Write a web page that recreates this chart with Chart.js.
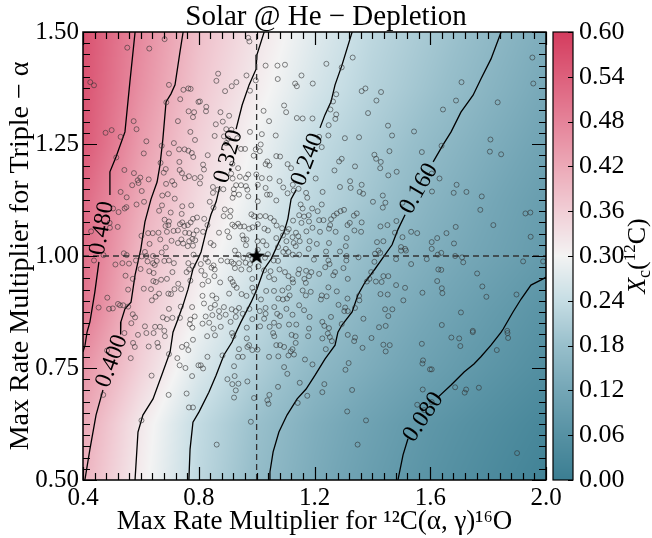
<!DOCTYPE html>
<html><head><meta charset="utf-8">
<script src="https://cdn.jsdelivr.net/npm/chart.js@4.4.1/dist/chart.umd.min.js"></script>
<style>html,body{margin:0;padding:0;background:#fff}#wrap{width:652px;height:538px}</style>
</head><body><div id="wrap"><canvas id="c" width="652" height="538"></canvas></div>
<script>
// ---------------- DATA ----------------
const xTicks = [0.4, 0.8, 1.2, 1.6, 2.0];
const yTicks = [0.5, 0.75, 1.0, 1.25, 1.5];
const cbTicks = [0, 0.06, 0.12, 0.18, 0.24, 0.30, 0.36, 0.42, 0.48, 0.54, 0.60];
const contourLevels = ['0.480', '0.400', '0.320', '0.240', '0.160', '0.080'];

// field X_c(12C) on a coarse grid
const gridX = [0.4, 0.6, 0.8, 1.0, 1.2, 1.4, 1.6, 1.8, 2.0];
const gridY = [0.5, 0.625, 0.75, 0.875, 1.0, 1.125, 1.25, 1.375, 1.5];
const gridValues = [
  [0.403,0.311,0.230,0.173,0.132,0.096,0.066,0.040,0.014],
  [0.420,0.319,0.236,0.182,0.140,0.107,0.076,0.052,0.028],
  [0.455,0.355,0.269,0.210,0.164,0.133,0.103,0.075,0.051],
  [0.500,0.377,0.299,0.232,0.188,0.150,0.121,0.092,0.066],
  [0.517,0.395,0.320,0.260,0.211,0.169,0.139,0.113,0.087],
  [0.524,0.418,0.341,0.279,0.227,0.190,0.154,0.124,0.095],
  [0.554,0.441,0.357,0.294,0.238,0.203,0.169,0.139,0.111],
  [0.562,0.459,0.374,0.313,0.260,0.219,0.187,0.155,0.125],
  [0.565,0.470,0.385,0.327,0.274,0.229,0.198,0.167,0.136]
];

// contour lines (broken where the inline labels sit)
const contour480a = [[0.580,1.5],[0.562,1.388],[0.545,1.277],[0.514,1.221],[0.493,1.188],[0.493,1.136]];
const contour480b = [[0.455,0.987],[0.441,0.920],[0.424,0.853],[0.414,0.830],[0.407,0.801],[0.4,0.786]];
const contour400a = [[0.746,1.5],[0.735,1.455],[0.718,1.382],[0.704,1.362],[0.687,1.344],[0.676,1.261],[0.666,1.203],[0.656,1.165],[0.635,1.127],[0.614,1.076],[0.600,1.016],[0.580,0.958],[0.566,0.897],[0.545,0.882],[0.531,0.853],[0.530,0.825]];
const contour400b = [[0.469,0.701],[0.445,0.645],[0.424,0.569],[0.407,0.502],[0.406,0.5]];
const contour320a = [[1.026,1.5],[1.001,1.449],[0.998,1.417],[0.974,1.382],[0.950,1.337],[0.929,1.283]];
const contour320b = [[0.873,1.156],[0.860,1.121],[0.842,1.092],[0.825,1.054],[0.808,1.009],[0.797,0.993],[0.780,0.971],[0.763,0.926],[0.746,0.891],[0.728,0.859],[0.711,0.830],[0.701,0.786],[0.676,0.741],[0.642,0.681],[0.607,0.645],[0.590,0.607],[0.580,0.502],[0.580,0.5]];
const contour240a = [[1.330,1.5],[1.295,1.426],[1.271,1.382],[1.257,1.344],[1.236,1.315],[1.219,1.286]];
const contour240b = [[1.136,1.147],[1.119,1.127],[1.108,1.083],[1.095,1.054],[1.077,1.031],[1.050,0.993],[1.026,0.971],[1.001,0.926],[0.981,0.897],[0.946,0.853],[0.929,0.830],[0.915,0.808],[0.887,0.779],[0.860,0.734],[0.835,0.696],[0.801,0.652],[0.780,0.629],[0.770,0.569],[0.766,0.502],[0.766,0.5]];
const contour160a = [[1.845,1.5],[1.810,1.440],[1.775,1.395],[1.748,1.359],[1.706,1.321],[1.672,1.277],[1.644,1.248],[1.610,1.210]];
const contour160b = [[1.513,1.092],[1.489,1.060],[1.468,1.025],[1.433,0.993],[1.409,0.971],[1.375,0.942],[1.350,0.913],[1.330,0.875],[1.295,0.846],[1.281,0.830],[1.271,0.801],[1.236,0.770],[1.202,0.734],[1.171,0.703],[1.140,0.681],[1.105,0.645],[1.077,0.607],[1.057,0.563],[1.046,0.518],[1.046,0.5]];
const contour080a = [[2.0,0.953],[1.990,0.949],[1.948,0.935],[1.914,0.904],[1.886,0.875],[1.852,0.837],[1.845,0.830],[1.810,0.801],[1.775,0.775],[1.751,0.759],[1.717,0.741],[1.672,0.712],[1.627,0.685]];
const contour080b = [[1.523,0.592],[1.506,0.556],[1.489,0.502],[1.488,0.5]];

// Monte-Carlo samples (rate multipliers)
const samples = [
[0.553,1.465],[0.629,1.463],[0.682,1.484],[0.425,1.388],[0.438,1.381],[0.697,1.382],[0.747,1.371],[0.764,1.374],[0.772,1.373],[0.736,1.350],[0.688,1.343],[0.799,1.344],[0.765,1.323],[0.784,1.321],[0.780,1.310],[0.728,1.301],[0.575,1.301],[0.585,1.283],[0.478,1.275],[0.499,1.281],[0.771,1.277],[0.530,1.266],[0.619,1.256],[0.714,1.252],[0.787,1.259],[0.672,1.246],[0.732,1.238],[0.751,1.238],[0.764,1.235],[0.776,1.230],[0.781,1.221],[0.697,1.229],[0.610,1.229],[0.515,1.220],[0.733,1.210],[0.668,1.208],[0.543,1.192],[0.576,1.185],[0.598,1.175],[0.589,1.169],[0.627,1.171],[0.686,1.194],[0.679,1.186],[0.734,1.192],[0.742,1.185],[0.766,1.178],[0.786,1.174],[0.752,1.174],[0.708,1.167],
[0.971,1.487],[0.975,1.479],[1.031,1.425],[1.072,1.425],[1.098,1.427],[0.867,1.407],[0.861,1.391],[0.965,1.403],[0.997,1.392],[1.073,1.395],[1.155,1.403],[0.930,1.388],[0.914,1.379],[1.133,1.385],[1.139,1.379],[1.194,1.385],[0.977,1.369],[0.891,1.368],[0.804,1.345],[0.826,1.333],[0.825,1.323],[0.875,1.321],[1.095,1.336],[1.102,1.321],[1.024,1.324],[0.905,1.313],[0.883,1.300],[0.859,1.294],[1.043,1.301],[1.139,1.308],[1.159,1.307],[1.193,1.307],[0.895,1.283],[0.913,1.282],[0.977,1.277],[1.018,1.272],[1.066,1.269],[0.855,1.268],[0.887,1.267],[0.902,1.262],[0.933,1.263],[0.895,1.252],[1.014,1.249],[0.946,1.239],[0.960,1.239],[0.997,1.238],[1.011,1.234],[0.990,1.224],[1.068,1.223],[1.081,1.222],[0.831,1.225],[0.815,1.204],[0.818,1.193],[0.806,1.176],[0.916,1.206],[0.936,1.196],[1.037,1.211],[1.031,1.205],[1.044,1.202],[1.107,1.205],[1.119,1.196],[0.912,1.184],[0.917,1.173],[0.942,1.177],[0.963,1.174],[0.971,1.182],[0.999,1.182],[1.018,1.174],[1.045,1.173],[1.079,1.167],
[1.332,1.443],[1.241,1.429],[1.294,1.421],[1.363,1.368],[1.376,1.374],[1.430,1.366],[1.275,1.361],[1.264,1.345],[1.414,1.347],[1.255,1.327],[1.275,1.316],[1.272,1.306],[1.385,1.319],[1.249,1.292],[1.454,1.291],[1.468,1.269],[1.544,1.278],[1.248,1.269],[1.216,1.266],[1.305,1.263],[1.354,1.265],[1.225,1.243],[1.459,1.234],[1.571,1.232],[1.407,1.226],[1.413,1.217],[1.429,1.210],[1.294,1.217],[1.285,1.211],[1.340,1.200],[1.427,1.196],[1.269,1.191],[1.484,1.188],[1.455,1.180],[1.323,1.167],[1.204,1.173],
[1.953,1.443],[1.956,1.385],[1.708,1.388],[1.689,1.347],[1.644,1.327],[1.833,1.343],[1.639,1.246],[1.808,1.260],[1.806,1.233],[1.845,1.227],[1.632,1.173],[1.605,1.184],
[0.530,1.143],[0.570,1.158],[0.592,1.163],[0.603,1.145],[0.687,1.161],[0.716,1.159],[0.551,1.131],[0.585,1.115],[0.611,1.121],[0.550,1.109],[0.544,1.106],[0.523,1.098],[0.504,1.106],[0.674,1.135],[0.693,1.138],[0.717,1.128],[0.673,1.113],[0.743,1.111],[0.774,1.113],[0.663,1.101],[0.703,1.097],[0.741,1.094],[0.682,1.081],[0.697,1.077],[0.695,1.069],[0.685,1.067],[0.735,1.071],[0.743,1.075],[0.750,1.067],[0.762,1.069],[0.772,1.075],[0.780,1.083],[0.794,1.086],[0.492,1.074],[0.493,1.063],[0.520,1.065],[0.428,1.055],[0.625,1.051],[0.641,1.051],[0.661,1.052],[0.690,1.054],[0.713,1.056],[0.728,1.057],[0.753,1.052],[0.767,1.051],[0.782,1.048],[0.793,1.057],[0.602,1.045],[0.667,1.037],[0.706,1.034],[0.740,1.037],[0.728,1.029],[0.746,1.028],[0.767,1.033],[0.778,1.038],[0.788,1.035],[0.762,1.022],[0.780,1.023],[0.630,1.027],[0.614,1.009],[0.672,1.008],[0.686,1.019],[0.541,1.006],[0.551,1.002],[0.471,1.002],[0.603,0.999],[0.619,1.000],[0.642,1.000],[0.782,1.003],[0.438,0.990],[0.512,0.981],[0.536,0.984],[0.559,0.983],[0.583,0.990],[0.623,0.988],[0.642,0.984],[0.648,0.980],[0.655,0.989],[0.681,0.989],[0.697,0.990],[0.714,0.984],[0.764,0.984],[0.547,0.956],[0.599,0.971],[0.629,0.966],[0.644,0.962],[0.709,0.964],[0.758,0.964],[0.767,0.970],[0.779,0.978],[0.572,0.949],[0.643,0.944],[0.652,0.942],[0.670,0.947],[0.690,0.949],[0.729,0.938],[0.771,0.945],[0.556,0.925],[0.610,0.927],[0.635,0.926],[0.695,0.916],[0.704,0.915],[0.716,0.926],[0.739,0.926],[0.663,0.916],[0.484,0.907],[0.638,0.901],[0.651,0.909],[0.521,0.893],[0.528,0.890],[0.539,0.890],[0.454,0.885],[0.490,0.882],[0.503,0.883],[0.556,0.887],[0.697,0.882],[0.738,0.887],[0.777,0.886],[0.572,0.870],[0.580,0.863],[0.567,0.850],[0.676,0.863],[0.690,0.859],[0.709,0.862],[0.735,0.862],[0.771,0.858],[0.769,0.848],[0.778,0.840],[0.649,0.842],[0.666,0.842],[0.681,0.833],[0.614,0.843],[0.786,0.865],
[0.804,1.162],[0.849,1.154],[0.866,1.148],[0.849,1.141],[0.885,1.149],[0.921,1.149],[0.929,1.158],[0.946,1.158],[0.963,1.156],[0.968,1.148],[1.004,1.159],[1.031,1.152],[1.036,1.137],[1.046,1.137],[1.068,1.124],[1.092,1.153],[1.107,1.140],[1.125,1.159],[1.128,1.146],[1.145,1.150],[1.171,1.141],[1.175,1.130],[1.152,1.115],[1.159,1.106],[1.192,1.106],[0.922,1.139],[0.939,1.137],[0.971,1.133],[1.004,1.122],[0.917,1.130],
[0.838,1.121],[0.851,1.108],[0.890,1.104],[0.910,1.101],[0.886,1.089],[0.908,1.088],[0.982,1.093],[0.991,1.089],[1.012,1.089],[1.031,1.089],[1.048,1.085],[0.936,1.072],[0.916,1.070],[0.924,1.066],[0.943,1.066],[0.957,1.066],[0.974,1.061],[0.986,1.064],[1.004,1.071],[1.027,1.061],[1.039,1.057],[1.060,1.078],[1.069,1.068],[1.088,1.062],[1.111,1.060],[1.105,1.054],[1.126,1.079],[1.147,1.091],[1.155,1.074],[1.164,1.088],[1.180,1.091],[1.181,1.077],[1.193,1.063],[0.819,1.083],[0.830,1.069],[0.815,1.054],[0.870,1.052],[0.899,1.055],[1.136,1.052],[1.172,1.055],[1.144,1.044],
[0.841,1.029],[0.851,1.024],[0.905,1.042],[0.951,1.046],[0.955,1.037],[0.965,1.037],[0.963,1.024],[1.003,1.033],[1.004,1.014],[1.022,1.033],[1.034,1.024],[1.068,1.040],[1.074,1.020],[1.091,1.046],[1.103,1.033],[1.124,1.042],[1.128,1.029],[1.149,1.033],[1.135,1.022],[1.125,1.003],[1.147,1.003],[1.180,1.016],[1.183,1.033],[1.198,0.992],[1.101,1.016],[1.092,1.009],[1.110,1.009],[1.059,0.990],[1.074,0.989],[1.029,0.996],[1.039,1.004],[0.974,1.002],[0.937,1.003],[0.925,1.012],[0.954,0.996],[0.985,0.993],[0.824,0.993],[0.832,0.987],[0.851,0.979],[0.877,0.990],[0.899,0.988],[0.913,0.987],[0.920,0.983],[0.939,0.984],[0.962,0.985],[0.977,0.982],[0.925,0.973],[0.947,0.970],[0.975,0.970],[1.006,0.977],[0.855,0.970],[0.844,0.974],[0.807,0.982],[0.809,0.967],[1.026,0.968],[1.048,0.966],[1.079,0.970],[1.098,0.964],[1.147,0.970],[1.144,0.960],[1.171,0.967],[1.189,0.964],
[0.821,0.957],[0.854,0.955],[0.833,0.944],[0.813,0.936],[0.874,0.941],[0.910,0.949],[0.917,0.942],[0.922,0.935],[0.931,0.929],[0.985,0.949],[0.985,0.929],[0.991,0.920],[0.905,0.916],[0.861,0.905],[0.813,0.911],[0.847,0.912],[1.043,0.953],[1.061,0.948],[1.110,0.955],[1.124,0.948],[1.165,0.949],[1.126,0.941],[1.110,0.929],[1.114,0.912],[1.089,0.923],[1.060,0.922],[1.033,0.922],[1.170,0.940],[1.181,0.955],[1.159,0.923],[1.170,0.912],[1.187,0.920],[1.075,0.905],[1.091,0.903],[1.105,0.905],[1.015,0.903],[0.965,0.911],[0.948,0.915],
[0.818,0.894],[0.841,0.884],[0.856,0.891],[0.870,0.877],[0.887,0.886],[0.914,0.881],[0.928,0.877],[0.939,0.884],[0.952,0.871],[0.975,0.882],[0.928,0.864],[0.910,0.853],[0.893,0.869],[0.872,0.864],[0.847,0.868],[0.824,0.865],[0.836,0.851],[0.813,0.849],[0.851,0.838],[0.876,0.842],[0.966,0.840],[0.985,0.859],[1.031,0.884],[1.031,0.871],[1.011,0.877],[1.026,0.860],[1.061,0.886],[1.071,0.871],[1.081,0.866],[1.060,0.851],[1.045,0.842],[1.077,0.844],[1.112,0.847],[1.137,0.847],[1.147,0.890],[1.164,0.879],[1.183,0.864],[1.181,0.838],[1.103,0.882],[1.124,0.869],[1.012,0.843],
[1.288,1.154],[1.325,1.152],[1.363,1.159],[1.356,1.143],[1.368,1.139],[1.228,1.143],[1.436,1.135],[1.402,1.121],[1.445,1.119],[1.436,1.108],[1.504,1.119],[1.225,1.115],[1.211,1.100],[1.302,1.103],[1.290,1.100],[1.277,1.095],[1.267,1.090],[1.346,1.095],[1.336,1.090],[1.216,1.080],[1.231,1.080],[1.257,1.082],[1.322,1.074],[1.314,1.069],[1.363,1.075],[1.254,1.069],[1.250,1.061],[1.273,1.054],[1.219,1.054],[1.338,1.057],[1.361,1.054],[1.428,1.066],[1.452,1.069],[1.483,1.078],[1.534,1.054],[1.555,1.051],[1.311,1.040],[1.250,1.029],[1.308,1.022],[1.416,1.031],[1.438,1.033],[1.478,1.052],[1.504,1.042],[1.499,1.020],[1.513,1.016],[1.499,1.012],[1.516,1.012],[1.208,1.027],[1.240,1.010],[1.288,1.010],[1.421,1.012],[1.427,1.007],[1.409,1.005],[1.352,0.997],[1.311,1.000],[1.248,0.990],[1.252,0.982],[1.310,0.990],[1.407,0.987],[1.482,0.993],[1.534,0.982],[1.588,0.993],[1.216,0.960],[1.237,0.975],[1.271,0.964],[1.265,0.957],[1.300,0.973],[1.315,0.949],[1.396,0.964],[1.390,0.949],[1.381,0.943],[1.412,0.943],[1.438,0.955],[1.455,0.955],[1.432,0.942],[1.482,0.935],[1.513,0.929],[1.573,0.918],[1.248,0.930],[1.277,0.921],[1.225,0.912],[1.242,0.910],[1.222,0.903],[1.314,0.905],[1.354,0.911],[1.355,0.901],[1.428,0.915],[1.453,0.914],[1.507,0.901],[1.283,0.891],[1.306,0.885],[1.303,0.877],[1.315,0.877],[1.340,0.884],[1.444,0.881],[1.469,0.881],[1.455,0.866],[1.257,0.864],[1.227,0.853],[1.250,0.839],[1.234,0.844],[1.369,0.860],[1.423,0.841],[1.446,0.844],[1.294,0.848],
[1.691,1.159],[1.606,1.144],[1.681,1.141],[1.725,1.143],[1.778,1.133],[1.773,1.103],[1.929,1.095],[1.946,1.097],[1.818,1.069],[1.688,1.065],[1.656,1.051],[1.624,1.040],[1.605,1.031],[1.682,1.028],[1.947,1.043],[1.605,1.016],[1.638,1.007],[1.626,1.003],[1.686,1.000],[1.710,0.997],[1.714,0.986],[1.921,0.988],[1.628,0.970],[1.638,0.969],[1.762,0.961],[1.624,0.944],[1.640,0.928],[1.642,0.917],[1.780,0.932],[1.794,0.909],[1.898,0.914],[1.706,0.874],[1.640,0.846],[1.747,0.833],[1.866,0.833],[1.990,0.988],
[0.543,0.828],[0.590,0.824],[0.619,0.828],[0.644,0.828],[0.683,0.821],[0.573,0.806],[0.579,0.797],[0.627,0.798],[0.657,0.806],[0.660,0.797],[0.483,0.789],[0.565,0.772],[0.697,0.781],[0.742,0.797],[0.758,0.802],[0.764,0.790],[0.780,0.813],[0.726,0.772],[0.734,0.756],[0.754,0.750],[0.799,0.756],[0.637,0.733],[0.777,0.732],[0.470,0.690],[0.696,0.690],[0.758,0.693],[0.766,0.662],[0.780,0.662],[0.602,0.633],
[0.829,0.821],[0.856,0.823],[0.915,0.828],[0.920,0.821],[0.966,0.816],[0.974,0.801],[0.985,0.790],[0.968,0.797],[1.003,0.791],[0.939,0.792],[0.936,0.775],[0.952,0.775],[1.061,0.821],[1.057,0.828],[1.121,0.824],[1.135,0.821],[1.178,0.821],[1.068,0.801],[1.081,0.801],[1.095,0.797],[1.135,0.806],[1.124,0.792],[1.118,0.787],[1.129,0.780],[1.110,0.778],[1.043,0.775],[1.075,0.776],[1.167,0.769],[1.193,0.758],[0.830,0.775],[0.882,0.778],[0.807,0.756],[0.815,0.749],[0.922,0.754],[1.095,0.752],[1.106,0.737],[0.924,0.732],[0.899,0.725],[0.916,0.714],[0.937,0.715],[0.968,0.720],[0.928,0.700],[0.922,0.684],[0.991,0.683],[1.074,0.708],[1.149,0.717],[1.044,0.690],[1.037,0.678],[1.041,0.670],[1.142,0.672],[1.175,0.688],[0.980,0.630],[0.862,0.579],
[1.246,0.827],[1.227,0.816],[1.253,0.819],[1.260,0.810],[1.315,0.824],[1.340,0.818],[1.337,0.810],[1.397,0.817],[1.366,0.795],[1.438,0.802],[1.460,0.801],[1.446,0.787],[1.571,0.804],[1.239,0.792],[1.318,0.761],[1.307,0.746],[1.575,0.767],[1.573,0.760],[1.599,0.747],[1.234,0.714],[1.227,0.696],[1.330,0.701],[1.574,0.702],[1.555,0.668],[1.579,0.656],[1.313,0.653],[1.378,0.633],[1.349,0.579],
[1.747,0.830],[1.867,0.828],[1.673,0.818],[1.700,0.816],[1.869,0.817],[1.704,0.799],[1.830,0.790],[1.605,0.747],[1.686,0.707],[1.768,0.706],[1.724,0.702],[1.719,0.695],[1.605,0.674],[1.900,0.560]
];
const reference = [[1.0, 1.0]];
const refLineX = 1.0, refLineY = 1.0;

// ---------------- STYLE ----------------
const SERIF = '"Liberation Serif", "DejaVu Serif", serif';
const cmapStops = [
  [0.00,[59,126,146]],[0.06,[86,145,163]],[0.12,[116,166,182]],[0.18,[152,191,203]],
  [0.24,[198,221,228]],[0.30,[243,243,243]],[0.36,[241,206,214]],[0.42,[236,169,183]],
  [0.48,[229,131,153]],[0.54,[221,96,124]],[0.60,[212,60,94]]
];
const contourLabelAt = [
  {i:0, x:0.466, y:1.062, a:-80},
  {i:1, x:0.500, y:0.765, a:-70},
  {i:2, x:0.903, y:1.222, a:-74},
  {i:3, x:1.176, y:1.215, a:-69},
  {i:4, x:1.561, y:1.150, a:-60},
  {i:5, x:1.576, y:0.640, a:-56}
];

function cmap(v){
  const t = Math.max(cmapStops[0][0], Math.min(cmapStops[cmapStops.length-1][0], v));
  for (let k=0;k<cmapStops.length-1;k++){
    const [a,ca]=cmapStops[k],[b,cb]=cmapStops[k+1];
    if (t<=b){ const f=(t-a)/(b-a); return [0,1,2].map(j=>Math.round(ca[j]+(cb[j]-ca[j])*f)); }
  }
  return cmapStops[cmapStops.length-1][1];
}
function gridAt(x,y){
  const nx=gridX.length, ny=gridY.length;
  let i=0; while(i<nx-2 && x>gridX[i+1]) i++;
  let j=0; while(j<ny-2 && y>gridY[j+1]) j++;
  const fx=Math.max(0,Math.min(1,(x-gridX[i])/(gridX[i+1]-gridX[i])));
  const fy=Math.max(0,Math.min(1,(y-gridY[j])/(gridY[j+1]-gridY[j])));
  const v00=gridValues[j][i], v10=gridValues[j][i+1], v01=gridValues[j+1][i], v11=gridValues[j+1][i+1];
  return (v00*(1-fx)+v10*fx)*(1-fy)+(v01*(1-fx)+v11*fx)*fy;
}

const heatPlugin = {
  id:'heat',
  beforeDatasetsDraw(chart){
    const {ctx, chartArea:a, scales:{x,y}} = chart;
    const w=Math.round(a.width), h=Math.round(a.height);
    const off=document.createElement('canvas'); off.width=w; off.height=h;
    const octx=off.getContext('2d'); const img=octx.createImageData(w,h);
    for(let r=0;r<h;r++){
      const yv=y.getValueForPixel(a.top+r+0.5);
      for(let c=0;c<w;c++){
        const xv=x.getValueForPixel(a.left+c+0.5);
        const col=cmap(gridAt(xv,yv)); const k=(r*w+c)*4;
        img.data[k]=col[0]; img.data[k+1]=col[1]; img.data[k+2]=col[2]; img.data[k+3]=255;
      }
    }
    octx.putImageData(img,0,0);
    ctx.drawImage(off,a.left,a.top);
  }
};

const frameAndExtras = {
  id:'frame',
  afterDatasetsDraw(chart){
    const {ctx, chartArea:a, scales:{x,y}} = chart;
    ctx.save();
    ctx.fillStyle='#000'; ctx.font='24px '+SERIF; ctx.textAlign='center'; ctx.textBaseline='middle';
    contourLabelAt.forEach(L=>{
      ctx.save(); ctx.translate(x.getPixelForValue(L.x), y.getPixelForValue(L.y));
      ctx.rotate(L.a*Math.PI/180); ctx.fillText(contourLevels[L.i],0,0); ctx.restore();
    });
    ctx.restore();
  },
  afterDraw(chart){
    const {ctx, chartArea:a, scales:{x,y,cb}} = chart;
    ctx.save();
    ctx.strokeStyle='#000';
    ctx.lineWidth=1.2;
    const minorX=0.04, minorY=0.025;
    ctx.beginPath();
    for(let v=x.min; v<=x.max+1e-9; v+=minorX){
      const isMajor = xTicks.some(t=>Math.abs(t-v)<1e-6);
      const L = isMajor?13:7; const px=Math.round(x.getPixelForValue(v))+0.5;
      ctx.moveTo(px,a.bottom); ctx.lineTo(px,a.bottom-L);
      ctx.moveTo(px,a.top); ctx.lineTo(px,a.top+L);
    }
    for(let v=y.min; v<=y.max+1e-9; v+=minorY){
      const isMajor = yTicks.some(t=>Math.abs(t-v)<1e-6);
      const L = isMajor?14:7; const py=Math.round(y.getPixelForValue(v))+0.5;
      ctx.moveTo(a.left,py); ctx.lineTo(a.left+L,py);
      ctx.moveTo(a.right,py); ctx.lineTo(a.right-L,py);
    }
    ctx.stroke();
    ctx.lineWidth=1.5;
    ctx.strokeRect(a.left,a.top,a.width,a.height);
    // colorbar
    const cbL=a.right+7, cbW=20;
    for(let py=Math.floor(a.top); py<Math.ceil(a.bottom); py++){
      const col=cmap(cb.getValueForPixel(py+0.5));
      ctx.fillStyle='rgb('+col.join(',')+')'; ctx.fillRect(cbL,py,cbW,1);
    }
    ctx.lineWidth=1.2;
    ctx.strokeRect(cbL,a.top,cbW,a.height);
    ctx.beginPath();
    cbTicks.forEach(v=>{ const py=Math.round(cb.getPixelForValue(v))+0.5; ctx.moveTo(cbL+cbW,py); ctx.lineTo(cbL+cbW-5,py); });
    ctx.stroke();
    // colorbar label  X_c(12C)
    ctx.translate(637,(a.top+a.bottom)/2); ctx.rotate(-Math.PI/2);
    ctx.fillStyle='#000'; ctx.textBaseline='alphabetic';
    const parts=[
      {t:'X',f:'italic 26px '+SERIF,dy:0},{t:'c',f:'18px '+SERIF,dy:5},{t:'(',f:'26px '+SERIF,dy:0},
      {t:'12',f:'17px '+SERIF,dy:-10},{t:'C)',f:'26px '+SERIF,dy:0}];
    let tw=0; parts.forEach(p=>{ctx.font=p.f; p.w=ctx.measureText(p.t).width; tw+=p.w;});
    let cx=-tw/2;
    parts.forEach(p=>{ctx.font=p.f; ctx.fillText(p.t,cx,8+p.dy); cx+=p.w;});
    ctx.restore();
  }
};

function starImage(){
  const c=document.createElement('canvas'); c.width=22; c.height=22;
  const g=c.getContext('2d'); g.fillStyle='#000'; g.beginPath();
  for(let k=0;k<10;k++){ const r=k%2?3.6:9; const ang=-Math.PI/2+k*Math.PI/5;
    const px=11+r*Math.cos(ang), py=11.5+r*Math.sin(ang); k?g.lineTo(px,py):g.moveTo(px,py); }
  g.closePath(); g.fill(); return c;
}

const toXY = arr => arr.map(p=>({x:p[0], y:p[1]}));
const contourStyle = {type:'line', showLine:true, pointRadius:0, borderColor:'#000', borderWidth:1.3, fill:false, tension:0, order:3};
const noPad = s => { s.paddingTop=0; s.paddingBottom=0; };

const datasets = [
  {label:'reference', data:toXY(reference), pointStyle:starImage(), pointRadius:10, order:0},
  {label:'samples', data:toXY(samples), pointRadius:2.5, pointBorderWidth:0.8, borderColor:'rgba(50,50,50,0.75)', backgroundColor:'rgba(0,0,0,0)', order:1},
  {label:'v', type:'line', data:[{x:refLineX,y:0.5},{x:refLineX,y:1.5}], borderColor:'#333', borderWidth:1.3, borderDash:[6,4], pointRadius:0, order:2},
  {label:'h', type:'line', data:[{x:0.4,y:refLineY},{x:2.0,y:refLineY}], borderColor:'#333', borderWidth:1.3, borderDash:[6,4], pointRadius:0, order:2},
  ...[contour480a,contour480b,contour400a,contour400b,contour320a,contour320b,contour240a,contour240b,contour160a,contour160b,contour080a,contour080b]
    .map((c,k)=>Object.assign({label:'c'+k, data:toXY(c)}, contourStyle))
];

new Chart(document.getElementById('c'), {
  type:'scatter',
  data:{datasets},
  plugins:[heatPlugin, frameAndExtras],
  options:{
    responsive:false, animation:false, devicePixelRatio:1, events:[],
    layout:{padding:0},
    plugins:{
      legend:{display:false}, tooltip:{enabled:false},
      title:{display:true, text:'Solar @ He \u2212 Depletion', color:'#000',
        font:{family:SERIF, size:29, weight:'normal', lineHeight:1.0}, padding:{top:3, bottom:0}}
    },
    scales:{
      x:{type:'linear', position:'bottom', min:0.4, max:2.0,
        afterBuildTicks:s=>{s.ticks=xTicks.map(v=>({value:v}));},
        ticks:{callback:v=>Number(v).toFixed(1), color:'#000', font:{family:SERIF,size:25}, padding:3, maxRotation:0, autoSkip:false},
        grid:{display:false, drawTicks:false}, border:{display:false},
        title:{display:true, text:'Max Rate Multiplier for \u00b9\u00b2C(\u03b1, \u03b3)\u00b9\u2076O', color:'#000', font:{family:SERIF,size:27}, padding:{top:0,bottom:0}},
        afterFit:s=>{s.height=58; s.paddingLeft=0; s.paddingRight=0;}
      },
      y:{type:'linear', position:'left', min:0.5, max:1.5,
        afterBuildTicks:s=>{s.ticks=yTicks.map(v=>({value:v}));},
        ticks:{callback:v=>Number(v).toFixed(2), color:'#000', font:{family:SERIF,size:25}, padding:4, autoSkip:false},
        grid:{display:false, drawTicks:false}, border:{display:false},
        title:{display:true, text:'Max Rate Multiplier for Triple \u2212 \u03b1', color:'#000', font:{family:SERIF,size:28}, padding:{top:4,bottom:0}},
        afterFit:s=>{s.width=83; noPad(s);}
      },
      cb:{type:'linear', position:'right', min:0, max:0.6,
        afterBuildTicks:s=>{s.ticks=cbTicks.map(v=>({value:v}));},
        ticks:{callback:v=>Number(v).toFixed(2), color:'#000', font:{family:SERIF,size:26}, padding:33, autoSkip:false},
        grid:{display:false, drawTicks:false}, border:{display:false},
        afterFit:s=>{s.width=106; noPad(s);}
      }
    }
  }
});
</script></body></html>
